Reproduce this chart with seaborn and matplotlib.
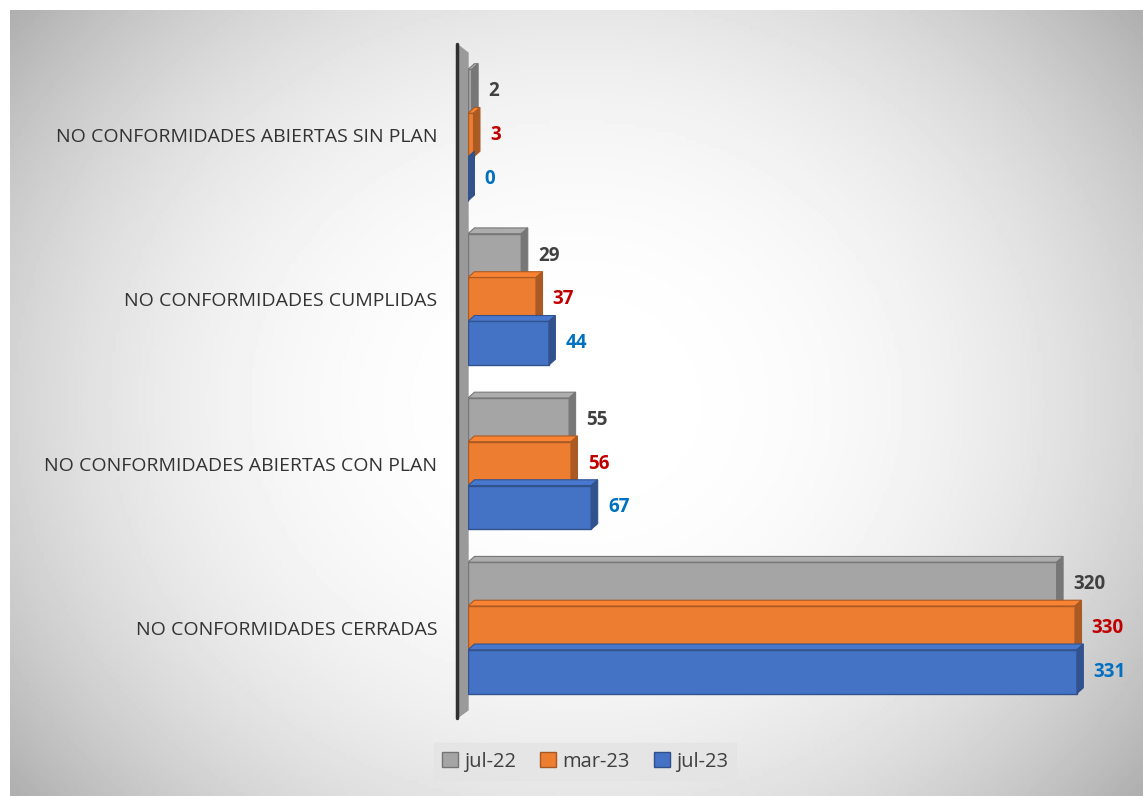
import numpy as np
import pandas as pd
import seaborn as sns
import matplotlib.pyplot as plt
from matplotlib.patches import Polygon
import matplotlib.colors as mcolors

# datos
categorias = ['NO CONFORMIDADES ABIERTAS SIN PLAN',
              'NO CONFORMIDADES CUMPLIDAS',
              'NO CONFORMIDADES ABIERTAS CON PLAN',
              'NO CONFORMIDADES CERRADAS']
periodos = ['jul-22', 'mar-23', 'jul-23']
jul22 = [2, 29, 55, 320]
mar23 = [3, 37, 56, 330]
jul23 = [0, 44, 67, 331]

colores = ['#A5A5A5', '#ED7D31', '#4472C4']
colores_txt = ['#404040', '#C00000', '#0070C0']

df = pd.DataFrame({'Categoria': categorias * 3,
                   'Periodo': [p for p in periodos for _ in categorias],
                   'Valor': jul22 + mar23 + jul23})

sns.set_style('white')
plt.rcParams['font.family'] = ['Open Sans', 'DejaVu Sans']

fig = plt.figure(figsize=(11.43, 7.96), dpi=100)

# fondo con degradado radial
bg = fig.add_axes([10/1143, 0, 1 - 10/1143, 1 - 10/796], zorder=-1)
yy, xx = np.mgrid[-1:1:200j, -1:1:300j]
r = np.sqrt(xx**2 + (yy*0.8)**2)
g = np.clip(1 - 0.17*r**2.5, 0, 1)
bg.imshow(g, cmap='gray', vmin=0, vmax=1, aspect='auto', extent=[0, 1, 0, 1])
bg.axis('off')

ax = fig.add_axes([468/1143, 1 - 710/796, 642/1143, 657/796])
ax.set_facecolor('none')

sns.barplot(data=df, x='Valor', y='Categoria', hue='Periodo', orient='h',
            order=categorias, hue_order=periodos, palette=colores,
            width=0.8, ax=ax, legend=False, saturation=1)

ax.set_xlim(0, 349)
ax.set_ylim(3.5, -0.5)

# efecto 3D
dx, dy = 3.5, 0.035
for i, cont in enumerate(ax.containers):
    base = mcolors.to_rgb(colores[i])
    dark = tuple(c*0.72 for c in base)
    for p in cont.patches:
        x0, y0 = p.get_x(), p.get_y()
        w, h = p.get_width(), p.get_height()
        p.set_edgecolor(dark)
        p.set_linewidth(1)
        top = Polygon([(x0, y0), (x0 + w, y0), (x0 + w + dx, y0 - dy), (x0 + dx, y0 - dy)],
                      closed=True, facecolor=tuple(min(1, c*1.05) for c in base),
                      edgecolor=dark, lw=0.8, zorder=p.get_zorder())
        side = Polygon([(x0 + w, y0), (x0 + w + dx, y0 - dy), (x0 + w + dx, y0 + h - dy), (x0 + w, y0 + h)],
                       closed=True, facecolor=dark, edgecolor=dark, lw=0.8, zorder=p.get_zorder())
        ax.add_patch(top)
        ax.add_patch(side)
    ax.bar_label(cont, labels=[str(int(v)) for v in cont.datavalues], padding=12,
                 color=colores_txt[i], fontsize=13.5, fontweight='bold')

# pared lateral
wall = Polygon([(-0.017, -0.012), (0.0, 0.0), (0.0, 1.0), (-0.017, 1.013)], closed=True,
               transform=ax.transAxes, facecolor='#9a9a9a', edgecolor='#9a9a9a',
               clip_on=False, zorder=0)
ax.add_patch(wall)
ax.plot([-0.017, -0.017], [-0.012, 1.013], transform=ax.transAxes, color='#303030',
        lw=2.5, clip_on=False)

sns.despine(ax=ax, left=True, bottom=True)
ax.set_xticks([])
ax.set_xlabel('')
ax.set_ylabel('')
ax.tick_params(axis='y', length=0, pad=22, labelsize=14, labelcolor='#333333')

# leyenda
hands = [plt.Rectangle((0, 0), 1, 1, facecolor=c, edgecolor=tuple(v*0.7 for v in mcolors.to_rgb(c)))
         for c in colores]
fig.legend(hands, periodos, loc='lower center', bbox_to_anchor=(0.512, 0.008), ncol=3,
           frameon=True, facecolor='#e4e4e4', edgecolor='#e4e4e4', fancybox=False,
           fontsize=14.5, handlelength=0.8, handleheight=0.8, handletextpad=0.3,
           columnspacing=1.2, labelcolor='#404040')

fig.savefig('out.png', dpi=100)
